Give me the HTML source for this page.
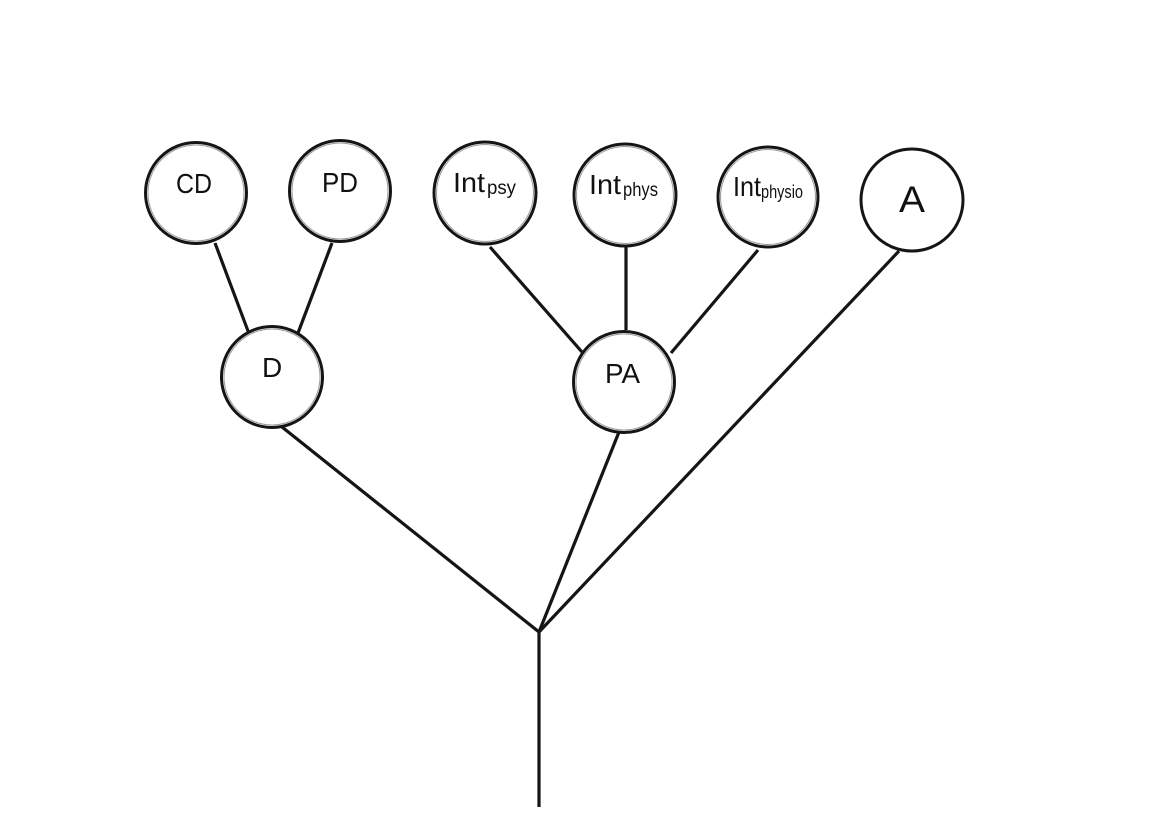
<!DOCTYPE html>
<html>
<head>
<meta charset="utf-8">
<style>
html,body{margin:0;padding:0;background:#fff;}
svg{display:block;}
text{font-family:"Liberation Sans",sans-serif;fill:#111;}
</style>
</head>
<body>
<svg width="1166" height="827" viewBox="0 0 1166 827" xmlns="http://www.w3.org/2000/svg">
  <g stroke="#151515" stroke-width="3.2" stroke-linecap="butt" fill="none">
    <line x1="215" y1="243" x2="248" y2="331"/>
    <line x1="332" y1="243" x2="298" y2="333"/>
    <line x1="490" y1="247" x2="582" y2="352"/>
    <line x1="626" y1="247" x2="626" y2="330"/>
    <line x1="758" y1="250" x2="671" y2="353"/>
    <line x1="282" y1="427" x2="539" y2="632"/>
    <line x1="619" y1="432" x2="539" y2="632"/>
    <line x1="899" y1="251" x2="539" y2="632"/>
    <line x1="539" y1="632" x2="539" y2="807"/>
  </g>
  <g fill="#fff" stroke="#151515" stroke-width="3">
    <circle cx="196" cy="193" r="50.5"/>
    <circle cx="340" cy="191" r="50.5"/>
    <circle cx="272" cy="377" r="50.5"/>
    <circle cx="485" cy="193" r="51"/>
    <circle cx="625" cy="195" r="51"/>
    <circle cx="768" cy="197" r="50"/>
    <circle cx="624" cy="382" r="50.5"/>
    <circle cx="912" cy="200" r="51"/>
  </g>
  <g fill="none" stroke="#999" stroke-width="1">
    <circle cx="196" cy="193" r="48"/>
    <circle cx="340" cy="191" r="48"/>
    <circle cx="272" cy="377" r="48"/>
    <circle cx="485" cy="193" r="48.5"/>
    <circle cx="625" cy="195" r="48.5"/>
    <circle cx="768" cy="197" r="47.5"/>
    <circle cx="624" cy="382" r="48"/>
  </g>
  <text x="176" y="193" font-size="28" textLength="36" lengthAdjust="spacingAndGlyphs">CD</text>
  <text x="322" y="192" font-size="28" textLength="36" lengthAdjust="spacingAndGlyphs">PD</text>
  <text x="262" y="377" font-size="28">D</text>
  <text x="605" y="383" font-size="28" textLength="35" lengthAdjust="spacingAndGlyphs">PA</text>
  <text x="899" y="212" font-size="37" textLength="26" lengthAdjust="spacingAndGlyphs">A</text>

  <text x="453" y="192" font-size="28" textLength="32" lengthAdjust="spacingAndGlyphs">Int</text>
  <text x="487" y="194" font-size="19" textLength="29" lengthAdjust="spacingAndGlyphs">psy</text>

  <text x="589" y="194" font-size="28" textLength="32" lengthAdjust="spacingAndGlyphs">Int</text>
  <text x="623" y="196" font-size="19" textLength="35" lengthAdjust="spacingAndGlyphs">phys</text>

  <text x="733" y="196" font-size="28" textLength="28" lengthAdjust="spacingAndGlyphs">Int</text>
  <text x="761" y="198" font-size="18" textLength="42" lengthAdjust="spacingAndGlyphs">physio</text>
</svg>
</body>
</html>
